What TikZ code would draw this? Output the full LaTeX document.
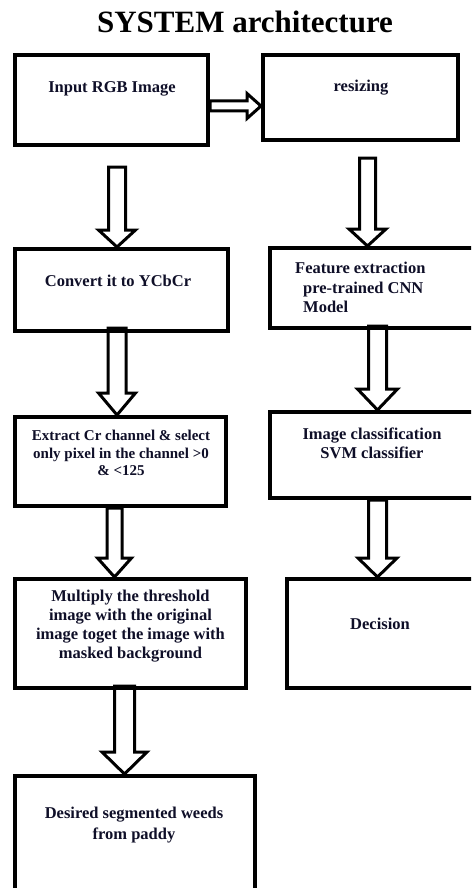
\documentclass[tikz,border=0pt]{standalone}
\usepackage{fontspec}
\setmainfont{Liberation Serif}
\usetikzlibrary{calc}
\definecolor{txt}{RGB}{15,15,40}
\newcommand\vblock[5]{\draw[barrow] ($(#1)+(-#3,0)$) -- ($(#2)+(-#3,-#5)$) -- ($(#2)+(-#4,-#5)$) -- (#2) -- ($(#2)+(#4,-#5)$) -- ($(#2)+(#3,-#5)$) -- ($(#1)+(#3,0)$) -- cycle;}
\newcommand\hblock[5]{\draw[barrow] ($(#1)+(0,-#3)$) -- ($(#2)+(-#5,-#3)$) -- ($(#2)+(-#5,-#4)$) -- (#2) -- ($(#2)+(-#5,#4)$) -- ($(#2)+(-#5,#3)$) -- ($(#1)+(0,#3)$) -- cycle;}
\tikzset{
  box/.style={draw=black, line width=4pt, rectangle, inner sep=0pt},
  barrow/.style={draw=black, line width=3pt, line join=miter},
  lbl/.style={inner sep=0pt, text=txt, font=\fontsize{16.5}{19.5}\selectfont\bfseries, align=center},
}
\begin{document}
\begin{tikzpicture}[x=1pt,y=-1pt]
\useasboundingbox (0,0) rectangle (471,888);
\fill[white] (0,0) rectangle (471,888);
\clip (0,0) rectangle (471,888);
\node[inner sep=0pt, anchor=base, font=\fontsize{31}{35}\selectfont\bfseries] (title) at (245,33) {SYSTEM architecture};
% boxes
\node[box, minimum width=193pt, minimum height=90pt] (b1) at (111.5,100) {};
\node[box, minimum width=195pt, minimum height=85pt] (b2) at (360.5,97.5) {};
\node[box, minimum width=213pt, minimum height=82pt] (b3) at (121.5,290) {};
\node[box, minimum width=211pt, minimum height=89pt] (b4) at (120.5,461.5) {};
\node[box, minimum width=231pt, minimum height=109pt] (b5) at (130.5,633.5) {};
\node[box, minimum width=240pt, minimum height=132pt] (b6) at (135,842) {};
\node[box, minimum width=204pt, minimum height=80pt] (b7) at (372,288) {};
\node[box, minimum width=204pt, minimum height=86pt] (b8) at (372,455) {};
\node[box, minimum width=187pt, minimum height=109pt] (b9) at (380.5,633.5) {};
% texts
\node[lbl, anchor=base] (t1) at (112,93) {Input RGB Image};
\node[lbl, anchor=base] (t2) at (361,92) {resizing};
\node[lbl, anchor=base] (t3) at (118,286) {Convert it to YCbCr};
\node[lbl, anchor=north, font=\fontsize{15}{17.5}\selectfont\bfseries] (t4) at (121,430) {Extract Cr channel \& select\\only pixel in the channel >0\\\& <125};
\node[lbl, anchor=north, font=\fontsize{16.5}{19}\selectfont\bfseries] (t5) at (130.5,590) {Multiply the threshold\\image with the original\\image toget the image with\\masked background};
\node[lbl, anchor=north, font=\fontsize{16.5}{21}\selectfont\bfseries] (t6) at (134,807) {Desired segmented weeds\\from paddy};
\node[lbl, anchor=north west, align=left] (t7) at (295,262) {Feature extraction\\\hspace*{8pt}pre-trained CNN\\\hspace*{8pt}Model};
\node[lbl, anchor=north, font=\fontsize{16.5}{19}\selectfont\bfseries] (t8) at (372,428) {Image classification\\SVM classifier};
\node[lbl, anchor=base] (t9) at (380,629) {Decision};
% connector coordinates
\coordinate (a1s) at ([xshift=5.5pt,yshift=-20pt]b1.south);
\coordinate (a1e) at (a1s |- b3.north);
\coordinate (a2s) at ([xshift=-4.5pt,yshift=5pt]b3.south);
\coordinate (a2e) at (a2s |- b4.north);
\coordinate (a3s) at ([xshift=-6pt]b4.south);
\coordinate (a3e) at (a3s |- b5.north);
\coordinate (a4s) at ([xshift=-6pt,yshift=4pt]b5.south);
\coordinate (a4e) at (a4s |- b6.north);
\coordinate (a5s) at ([xshift=7pt,yshift=-16pt]b2.south);
\coordinate (a5e) at (a5s |- b7.north);
\coordinate (a6s) at ([xshift=5.5pt,yshift=4pt]b7.south);
\coordinate (a6e) at (a6s |- b8.north);
\coordinate (a7s) at ([xshift=5.5pt]b8.south);
\coordinate (a7e) at (a7s |- b9.north);
\coordinate (hs) at ([yshift=-6pt]b1.east);
\coordinate (he) at (b2.west |- hs);
% block arrows
\vblock{a1s}{a1e}{8.5}{18.5}{17}
\vblock{a2s}{a2e}{9}{18.5}{22}
\vblock{a3s}{a3e}{7.5}{17}{19}
\vblock{a4s}{a4e}{10}{22.5}{22}
\vblock{a5s}{a5e}{8}{18.5}{17}
\vblock{a6s}{a6e}{9}{20}{21}
\vblock{a7s}{a7e}{9}{19.5}{19}
\hblock{hs}{he}{5}{12.5}{14}
\end{tikzpicture}
\end{document}
